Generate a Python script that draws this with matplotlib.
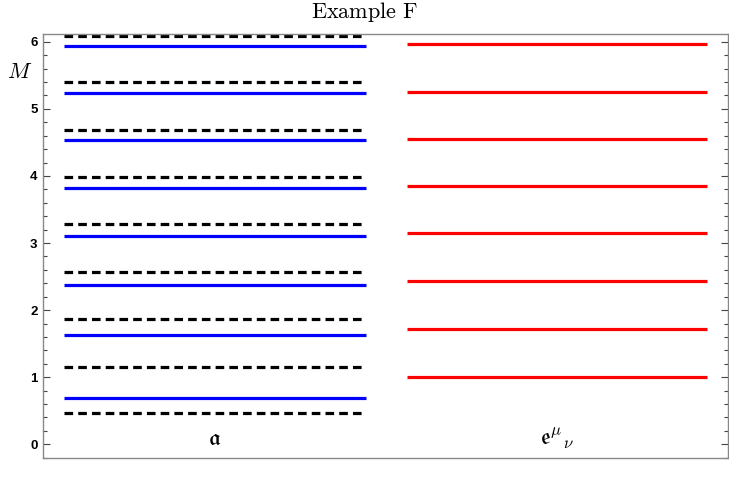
"""Spectrum comparison: two columns of mass levels."""
import matplotlib
matplotlib.use("Agg")
import matplotlib.pyplot as plt
from matplotlib.ticker import MultipleLocator

plt.rcParams["mathtext.fontset"] = "cm"

# mass levels
masses_dashed = [6.09, 5.40, 4.69, 3.985, 3.28, 2.567, 1.863, 1.158, 0.473]
masses_blue = [5.94, 5.235, 4.53, 3.82, 3.10, 2.378, 1.625, 0.696]
masses_red = [5.97, 5.256, 4.55, 3.85, 3.146, 2.43, 1.724, 1.0]
column_labels = [r"$\mathfrak{a}$", r"$\mathfrak{e}^{\mu}{}_{\nu}$"]

fig = plt.figure(figsize=(7.29, 4.91), dpi=100)
ax = fig.add_axes([43 / 729, 1 - 457.7 / 491, 685 / 729, (457.7 - 33.7) / 491])

for m in masses_blue:
    ax.plot([0.03, 0.472], [m, m], color="#0000ff", lw=2.3, solid_capstyle="butt")
for m in masses_dashed:
    ax.plot([0.03, 0.468], [m, m], color="black", lw=2.3,
            dashes=(2.7, 1.6), dash_capstyle="butt")
for m in masses_red:
    ax.plot([0.532, 0.97], [m, m], color="#ff0000", lw=2.3, solid_capstyle="butt")

for x, lab in zip([0.25, 0.75], column_labels):
    ax.text(x, 0.09, lab, ha="center", va="center", fontsize=17)

ax.set_xlim(0, 1)
ax.set_ylim(-0.2, 6.12)
ax.set_xticks([])
ax.yaxis.set_major_locator(MultipleLocator(1))
ax.yaxis.set_minor_locator(MultipleLocator(0.2))
ax.tick_params(axis="y", which="both", direction="in", left=True, right=True,
               color="#444444", width=0.8)
ax.tick_params(axis="y", which="major", length=5, labelsize=9.5, pad=4)
ax.tick_params(axis="y", which="minor", length=3)
for t in ax.get_yticklabels():
    t.set_fontweight("bold")
    t.set_family("Liberation Sans")
for s in ax.spines.values():
    s.set_color("#888888")
    s.set_linewidth(1.0)

fig.text(20 / 729, 1 - 72 / 491, r"$M$", ha="center", va="center", fontsize=16)
fig.text(0.5, 1 - 12 / 491, r"$\mathrm{Example\ F}$", ha="center", va="center",
         fontsize=16)

fig.savefig("out.png", dpi=100)
